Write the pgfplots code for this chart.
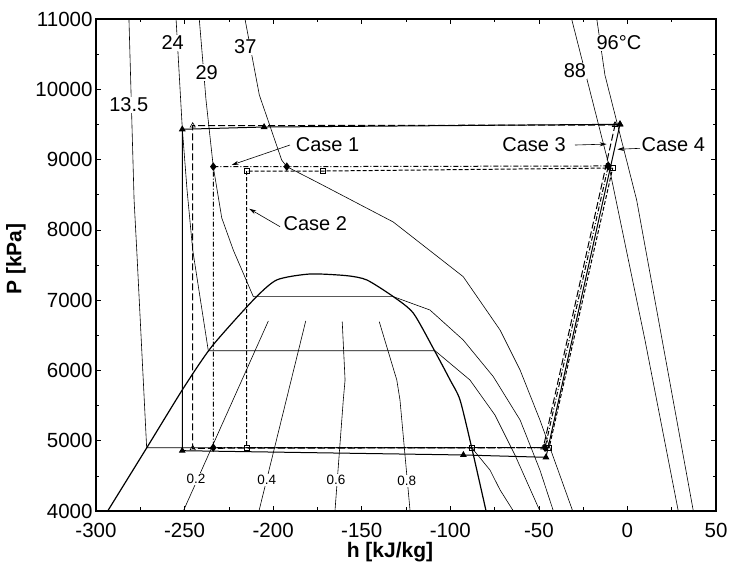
\documentclass[border=0pt]{standalone}
\usepackage{fontspec}
\setmainfont{Liberation Sans}
\usepackage{pgfplots}
\pgfplotsset{compat=1.18}
\usetikzlibrary{arrows.meta}

\begin{document}
\begin{tikzpicture}[font=\fontsize{20bp}{23bp}\selectfont,
  iso/.style={black, line width=0.6bp},
  lab/.style={fill=white, inner sep=1bp},
  ql/.style={fill=white, inner sep=1bp, font=\fontsize{13.5bp}{15bp}\selectfont},
  arr/.style={-{Stealth[length=7bp,width=4bp]}, line width=0.6bp}]
\begin{axis}[
  name=ax,
  scale only axis,
  width=620bp, height=492bp,
  xmin=-300, xmax=50, ymin=4000, ymax=11000,
  xtick={-300,-250,...,50},
  ytick={4000,5000,...,11000},
  minor x tick num=1, minor y tick num=1,
  tick align=inside,
  major tick length=5bp, minor tick length=3.5bp,
  axis line style={line width=1.2bp},
  every tick/.style={line width=0.6bp, black},
  /pgf/number format/assume math mode=true,
  /pgf/number format/set thousands separator={},
  scaled ticks=false,
  tick label style={font=\fontsize{20.5bp}{23bp}\selectfont},
  xticklabel style={yshift=-9bp},
  xlabel={\bfseries h [kJ/kg]},
  ylabel={\bfseries P [kPa]},
  label style={font=\fontsize{21bp}{24bp}\selectfont},
  xlabel style={xshift=-16bp, yshift=3bp},
  ylabel style={xshift=6bp, yshift=3bp},
]
% saturation dome
\addplot[black, line width=1.2bp, smooth, tension=0.4] coordinates {
  (-293.4,4000) (-271.4,4897) (-250.7,5746) (-234.7,6338) (-211.2,7002)
  (-198.0,7287) (-179.2,7372) (-158.4,7348) (-147.1,7287) (-132.1,7049)
  (-120.8,6813) (-108.6,6267) (-100.1,5864) (-94.5,5580) (-87.9,4900) (-79.8,4000)};

% isotherms
\addplot[iso] coordinates {(-281.4,11000) (-278.5,8425) (-277.0,7713) (-271.4,4900)
  (-87.9,4900) (-77.6,4583) (-71.9,4300) (-64.4,4000)};
\addplot[iso] coordinates {(-254.8,11000) (-251.3,9449) (-248.6,8567) (-245.4,7713)
  (-236.6,6280) (-108.6,6280) (-88.9,5864) (-74.8,5366) (-63.5,4797) (-49.4,4000)};
\addplot[iso] coordinates {(-241.7,11000) (-237.9,9848) (-233.8,8899) (-229.0,8169)
  (-222.5,7713) (-211.2,7050) (-132.2,7050) (-111.5,6860) (-92.7,6433) (-75.7,5911)
  (-60.6,5295) (-49.4,4583) (-41.8,4000)};
\addplot[iso] coordinates {(-215.9,11000) (-207.8,9919) (-195.2,8994) (-192.3,8899)
  (-175.4,8681) (-132.2,8112) (-92.7,7334) (-71.9,6575) (-60.6,6006) (-49.4,5295)
  (-39.2,4583) (-30.9,4000)};
\addplot[iso] coordinates {(-31.5,11000) (-10.8,8951) (9.9,6433) (28.7,4000)};
\addplot[iso] coordinates {(-17.3,11000) (-12.7,10203) (5.2,8425) (37.2,4000)};

% quality lines
\addplot[iso] coordinates {(-250.7,4000) (-202.7,6704)};
\addplot[iso] coordinates {(-208.0,4000) (-181.6,6704)};
\addplot[iso] coordinates {(-165.1,4000) (-160.4,5580) (-159.4,5864) (-161.0,6693)};
\addplot[iso] coordinates {(-122.7,4000) (-128.4,5580) (-130.2,5864) (-140.1,6693)};

% Case 4
\addplot[black, line width=1bp, mark=triangle*, mark size=3bp] coordinates {
  (-4.2,9502) (-205.1,9463) (-251.3,9431) (-251.3,4858) (-92.6,4797) (-46.0,4764) (-4.2,9502)};
% Case 3
\addplot[black, line width=1bp, dash pattern=on 7bp off 3bp, mark=triangle,
  mark size=3bp, mark options={solid, fill=white, line width=0.6bp}] coordinates {
  (-7.0,9492) (-245.4,9482) (-245.4,4892) (-47.5,4901) (-7.0,9492)};
% Case 2
\addplot[black, line width=1bp, dash pattern=on 4bp off 2bp, mark=square,
  mark size=2.5bp, mark options={solid, fill=white, line width=0.6bp}] coordinates {
  (-8.3,8880) (-172.0,8837) (-214.9,8837) (-214.9,4901) (-87.9,4901) (-44.2,4901) (-8.3,8880)};
% Case 1
\addplot[black, line width=1bp, dash pattern=on 5bp off 2bp on 1bp off 2bp, mark=diamond*,
  mark size=3.5bp, mark options={solid}] coordinates {
  (-10.8,8909) (-192.3,8899) (-233.8,8899) (-233.8,4901) (-46.5,4901) (-10.8,8909)};

% labels on lines
\node[lab] at (axis cs:-281.5,9782) {13.5};
\node[lab] at (axis cs:-256.7,10659) {24};
\node[lab] at (axis cs:-237.5,10239) {29};
\node[lab] at (axis cs:-215.7,10602) {37};
\node[lab] at (axis cs:-29.6,10260) {88};
\node[lab] at (axis cs:-4.8,10659) {96°C};
\node[ql] at (axis cs:-243.5,4455) {0.2};
\node[ql] at (axis cs:-203.6,4441) {0.4};
\node[ql] at (axis cs:-164.5,4441) {0.6};
\node[ql] at (axis cs:-124.6,4427) {0.8};

% case labels and arrows
\draw[arr] (axis cs:-190.5,9207) -- (axis cs:-223.4,8923);
\draw[arr] (axis cs:-196.1,8045) -- (axis cs:-213.5,8300);
\draw[arr] (axis cs:-29.6,9207) -- (axis cs:-11.7,9220);
\draw[arr] (axis cs:7.1,9160) -- (axis cs:-5.7,9146);
\node[anchor=base, inner sep=0pt] at (axis cs:-169.3,9112) {Case 1};
\node[anchor=base, inner sep=0pt] at (axis cs:-176.2,7988) {Case 2};
\node[anchor=base, inner sep=0pt] at (axis cs:-52.7,9112) {Case 3};
\node[anchor=base, inner sep=0pt] at (axis cs:25.9,9112) {Case 4};
\end{axis}
\pgfresetboundingbox
\useasboundingbox ([shift={(-96bp,-64bp)}]ax.south west) rectangle ([shift={(21bp,19bp)}]ax.north east);
\end{tikzpicture}
\end{document}
